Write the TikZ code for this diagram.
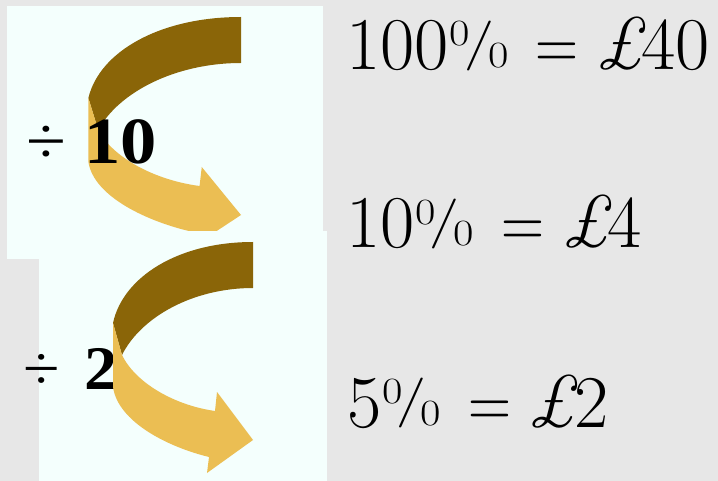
\documentclass[tikz,border=0pt]{standalone}
\usepackage[no-math]{fontspec}
\newfontfamily\lblfont{Liberation Serif}
\usepackage{tikz}
\usetikzlibrary{calc}
\usepackage{xcolor}
\definecolor{bggray}{HTML}{E7E7E7}
\definecolor{panelcyan}{HTML}{F4FFFD}
\definecolor{twistback}{HTML}{8A6508}
\definecolor{twistfront}{HTML}{EBBE53}

% twisted ribbon arrow, top right corner at (#1,#2), widened by #3
\newcommand{\twistarrow}[3]{%
\begin{scope}[shift={(#1,#2)},xscale=#3]
\fill[twistback] (0,0) .. controls (-75,0) and (-130,35) .. (-140,81)
  -- (-131,113) .. controls (-112,75) and (-60,46) .. (0,46) -- cycle;
\fill[twistfront] (-140,81) -- (-131,113)
  .. controls (-118,140) and (-80,163) .. (-38,169) -- (-36,150) -- (0,198)
  -- (-46,231) -- (-44,215) .. controls (-85,205) and (-135,180) .. (-140,145) -- cycle;
\end{scope}}
% percent, equals and pound signs of the results
\newcommand{\smallzero}{{\fontsize{37}{37}\selectfont\scalebox{1.2}[1]{0}}}
\newcommand{\pc}{\kern1pt\raisebox{24pt}{\smallzero}\kern-6pt%
  {\fontsize{50}{50}\selectfont\raisebox{11.5pt}{\scalebox{1.3}[1]{/}}}\kern-6pt%
  \raisebox{2pt}{\smallzero}}
\newcommand{\eqsign}{\kern27.3pt\scalebox{0.8}[1]{=}\kern15.6pt}
\newcommand{\lb}{\textit{\pounds}\kern-8.7pt}

\begin{document}
\begin{tikzpicture}[x=1pt,y=-1pt,
  eqn/.style={anchor=base west,inner sep=0pt,font=\fontsize{74.5}{80}\selectfont},
  divlabel/.style={anchor=base west,inner sep=0pt}]
\useasboundingbox (0,0) rectangle (718,481);
\fill[bggray] (0,0) rectangle (718,481);
% divide by 10
\fill[panelcyan] (7,6) rectangle (323,259);
\twistarrow{241}{17}{1.09}
\node[divlabel,xscale=1.1,font=\lblfont\fontsize{66}{66}\selectfont] (div10) at (26,164) {÷ \textbf{10}};
% divide by 2
\fill[panelcyan] (39,231) rectangle (327,481);
\node[divlabel,xscale=1.07,font=\lblfont\fontsize{62}{62}\selectfont] (div2) at (23,389) {÷\kern0.12em{} \textbf{2}};
\twistarrow{253}{242}{1}
% results
\node[eqn] (whole) at (346,70) {100\pc\eqsign\lb 40};
\node[eqn] (tenth) at (346,248) {10\pc\eqsign\lb 4};
\node[eqn] (half) at (347,427) {5\pc\eqsign\lb 2};
\end{tikzpicture}
\end{document}
